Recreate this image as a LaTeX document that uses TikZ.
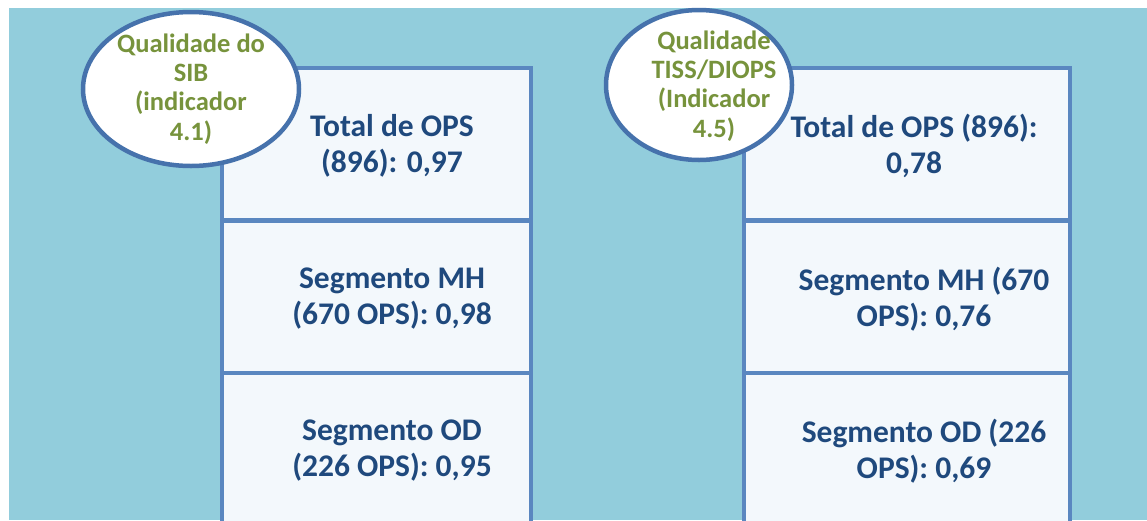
\documentclass[tikz,border=0pt]{standalone}
\usepackage{fontspec}
\setmainfont{Carlito}
\usetikzlibrary{shapes.geometric}
\definecolor{bg}{HTML}{92CDDC}
\definecolor{cellline}{HTML}{5A87C0}
\definecolor{cellfill}{HTML}{F3F8FC}
\definecolor{ovalline}{HTML}{4672AC}
\definecolor{navy}{HTML}{1F497D}
\definecolor{olive}{HTML}{77933C}
\begin{document}
\begin{tikzpicture}[x=1pt,y=-1pt,
  cell/.style={draw=cellline, line width=3.5pt, fill=cellfill, outer sep=0pt, anchor=north west, minimum width=309pt, minimum height=152pt},
  celltext/.style={text=navy, font=\fontsize{31.5}{36}\selectfont\bfseries, align=center, inner sep=0pt},
  oval/.style={ellipse, draw=ovalline, line width=4.5pt, fill=white, inner sep=0pt},
  ovaltext/.style={text=olive, font=\fontsize{26.5}{29.2}\selectfont\bfseries, align=center, inner sep=0pt}]
\useasboundingbox (0,0) rectangle (1147,520);
\fill[bg] (9,8) rectangle (1147,520);
% left column
\node[cell] (l1) at (222,68) {};
\node[cell] (l2) at (222,221) {};
\node[cell, minimum height=180pt] (l3) at (222,373) {};
\node[celltext] (t1) at (392,146) {Total de OPS\\(896): 0,97};
\node[celltext] (t2) at (392,299) {Segmento MH\\(670 OPS): 0,98};
\node[celltext] (t3) at (392,451) {Segmento OD\\(226 OPS): 0,95};
% right column
\node[cell, minimum width=326pt] (r1) at (744,68) {};
\node[cell, minimum width=326pt] (r2) at (744,221) {};
\node[cell, minimum width=326pt, minimum height=180pt] (r3) at (744,373) {};
\node[celltext] (u1) at (914,146) {Total de OPS (896):\\0,78};
\node[celltext] (u2) at (924,299) {Segmento MH (670\\OPS): 0,76};
\node[celltext] (u3) at (924,451) {Segmento OD (226\\OPS): 0,69};
% ovals
\node[oval, minimum width=216pt, minimum height=154pt] (e1) at (191,89) {};
\node[ovaltext] (et1) at (191,89) {Qualidade do\\SIB\\(indicador\\4.1)};
\node[oval, minimum width=186pt, minimum height=150pt] (e2) at (699,85) {};
\node[ovaltext] (et2) at (714,86) {Qualidade\\TISS/DIOPS\\(Indicador\\4.5)};
\end{tikzpicture}
\end{document}
